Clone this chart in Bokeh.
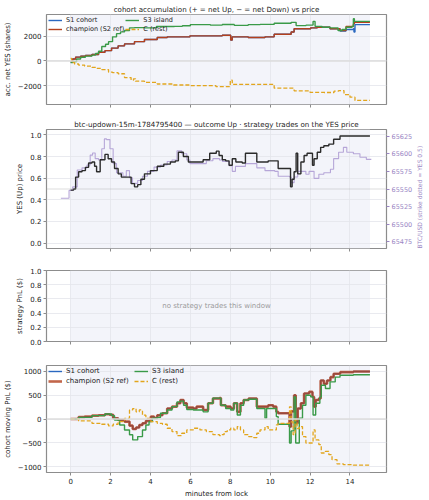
import math

from bokeh.plotting import figure
from bokeh.models import (Range1d, LinearAxis, FixedTicker, BoxAnnotation, Span,
                          Legend, LegendItem, Label, CustomLabelingPolicy)
from bokeh.layouts import column
from bokeh.embed import file_html
from bokeh.resources import INLINE

# ---------------------------------------------------------------- data
MARKET = "btc-updown-15m-1784795400"
STRIKE = 65550
MINUTE_TICKS = [0, 2, 4, 6, 8, 10, 12, 14]

# accumulated net YES shares per cohort, (minute, shares)
s1_acc = [(0, -80), (0.1, 150), (0.25, 310), (0.5, 380), (0.74, 440), (1.07, 520), (1.4, 700),
          (1.72, 830), (2.05, 1040), (2.38, 1220), (2.7, 1380), (3.2, 1560), (3.7, 1740),
          (4.34, 1900), (4.84, 1950), (5.98, 2030), (7.6, 2080), (8.02, 1690), (8.1, 1950),
          (8.9, 1900), (9.74, 1950), (10.2, 2160), (11.05, 2340), (11.2, 2600), (12.03, 2680),
          (12.36, 2730), (13.0, 2600), (13.5, 2420), (13.8, 2550), (14.17, 2600), (14.2, 2340),
          (14.25, 2940), (15.0, 2940)]
champion_acc = [(0, -80), (0.1, 150), (0.25, 310), (0.5, 380), (0.74, 440), (1.07, 520), (1.4, 700),
                (1.72, 830), (2.05, 1040), (2.38, 1220), (2.7, 1380), (3.2, 1560), (3.7, 1740),
                (4.34, 1900), (4.84, 1950), (5.98, 2030), (7.6, 2080), (8.02, 1690), (8.1, 1950),
                (8.9, 1900), (9.74, 1950), (10.2, 2160), (11.05, 2340), (11.2, 2600), (12.03, 2680),
                (12.36, 2730), (13.0, 2600), (13.5, 2470), (13.8, 2790), (14.17, 3000),
                (14.22, 3130), (15.0, 3130)]
s3_acc = [(0, -130), (0.1, -60), (0.3, 150), (0.5, 300), (0.74, 390), (1.07, 470), (1.25, 600),
          (1.4, 780), (1.56, 1170), (1.75, 1350), (1.9, 1560), (2.1, 1950), (2.3, 2210),
          (2.5, 2350), (2.7, 2470), (2.95, 2680), (3.2, 2700), (3.7, 2680), (4.3, 2790),
          (5.2, 2800), (5.6, 2850), (6.0, 2940), (7.0, 2900), (7.6, 2950), (8.2, 2880),
          (8.9, 2940), (9.5, 2960), (10.2, 3050), (11.05, 3125), (11.3, 2860), (11.8, 2900),
          (12.15, 3200), (12.25, 2800), (12.6, 2730), (13.0, 2680), (13.4, 2470), (13.6, 2550),
          (13.8, 2730), (14.1, 2800), (14.17, 3420), (14.22, 3200), (15.0, 3200)]
rest_acc = [(0, 200), (0.05, -130), (0.2, -250), (0.4, -340), (0.7, -420), (1.07, -520), (1.3, -600),
            (1.56, -700), (1.9, -910), (2.1, -950), (2.38, -1040), (2.7, -1350), (3.03, -1560),
            (3.15, -1450), (3.25, -1640), (3.7, -1740), (4.34, -1870), (5.16, -1950), (5.98, -2000),
            (7.28, -2080), (8.0, -1560), (8.1, -1900), (10.2, -2210), (11.2, -2420), (12.0, -2550),
            (12.7, -2560), (13.2, -2450), (13.43, -2400), (13.7, -2730), (14.0, -2940),
            (14.25, -3200), (15.0, -3200)]

# YES (Up) mid price, (minute, price)
yes_price = [(0, 0.49), (0.15, 0.50), (0.25, 0.61), (0.4, 0.66), (0.57, 0.67), (0.74, 0.70),
             (0.9, 0.74), (1.07, 0.75), (1.2, 0.71), (1.3, 0.66), (1.48, 0.77), (1.72, 0.82),
             (1.88, 0.78), (2.05, 0.75), (2.2, 0.69), (2.38, 0.64), (2.54, 0.61), (2.87, 0.61),
             (3.03, 0.55), (3.2, 0.52), (3.36, 0.54), (3.52, 0.59), (3.7, 0.64), (4.0, 0.67),
             (4.34, 0.71), (4.67, 0.73), (5.0, 0.75), (5.25, 0.76), (5.4, 0.84), (5.65, 0.80),
             (5.9, 0.75), (6.3, 0.75), (6.64, 0.77), (6.97, 0.83), (7.3, 0.85), (7.44, 0.81),
             (7.6, 0.77), (7.77, 0.76), (7.94, 0.72), (8.1, 0.78), (8.28, 0.75), (8.6, 0.74),
             (8.76, 0.83), (9.25, 0.83), (9.33, 0.75), (9.74, 0.75), (9.9, 0.76), (10.15, 0.76),
             (10.4, 0.69), (10.97, 0.69), (11.02, 0.52), (11.1, 0.59), (11.2, 0.66), (11.3, 0.83),
             (11.38, 0.64), (11.54, 0.75), (11.7, 0.81), (11.85, 0.83), (12.03, 0.83),
             (12.12, 0.72), (12.2, 0.78), (12.36, 0.84), (12.53, 0.885), (12.69, 0.90),
             (12.94, 0.915), (13.18, 0.96), (13.5, 0.99), (15.0, 0.99)]

# BTC/USD spot, (minute, usd)
btc_usd = [(-0.49, 65537), (-0.08, 65548), (0.1, 65553), (0.33, 65577), (0.57, 65580), (0.82, 65584),
           (0.98, 65598), (1.1, 65601), (1.23, 65593), (1.4, 65591), (1.56, 65607), (1.69, 65621),
           (1.8, 65620), (1.97, 65607), (2.13, 65586), (2.3, 65573), (2.62, 65568), (2.79, 65576),
           (2.95, 65566), (3.1, 65558), (3.36, 65562), (3.6, 65568), (3.85, 65575), (4.18, 65581),
           (4.51, 65584), (4.84, 65589), (5.08, 65591), (5.33, 65604), (5.57, 65600), (5.82, 65591),
           (5.98, 65586), (6.48, 65586), (6.8, 65590), (7.13, 65593), (7.46, 65591), (7.61, 65589),
           (7.94, 65583), (8.1, 65575), (8.26, 65582), (8.76, 65586), (9.33, 65580), (9.74, 65576),
           (10.23, 65575), (10.4, 65568), (10.97, 65567), (11.05, 65559), (11.2, 65567),
           (11.38, 65575), (11.79, 65571), (11.95, 65575), (12.2, 65565), (12.44, 65571),
           (12.69, 65573), (13.02, 65578), (13.18, 65593), (13.43, 65602), (13.67, 65609),
           (13.84, 65602), (14.17, 65600), (14.5, 65595), (14.82, 65592), (15.07, 65592)]

# moving (mark-to-market) PnL per cohort, (minute, usd)
champion_pnl = [(0, 0), (0.4, 40), (0.7, 50), (1.07, 70), (1.4, 80), (1.72, 100), (1.95, 90),
                (2.13, 15), (2.38, -20), (2.7, -55), (2.95, -140), (3.11, -210), (3.28, -180),
                (3.44, -125), (3.6, -90), (3.77, -40), (4.02, 50), (4.18, 20), (4.34, 80),
                (4.6, 120), (4.84, 220), (5.08, 260), (5.33, 330), (5.5, 400), (5.66, 330),
                (5.82, 240), (6.15, 220), (6.31, 260), (6.64, 190), (6.89, 330), (7.13, 430),
                (7.46, 440), (7.53, 290), (7.77, 260), (8.02, 220), (8.18, 330), (8.35, 150),
                (8.51, 330), (8.67, 400), (8.92, 430), (9.33, 260), (9.9, 290), (10.15, 260),
                (10.31, 150), (10.4, 120), (10.97, -160), (11.05, 160), (11.2, 500), (11.28, -90),
                (11.38, 220), (11.54, 330), (11.7, 535), (11.95, 570), (12.12, 465), (12.2, 260),
                (12.28, 400), (12.44, 430), (12.53, 810), (12.69, 740), (12.85, 810), (13.02, 880),
                (13.18, 950), (13.51, 985), (14.17, 1000), (15.0, 1000)]
s1_pnl = [(0, 0), (0.4, 40), (0.7, 50), (1.07, 70), (1.4, 80), (1.72, 100), (1.95, 90),
          (2.13, 15), (2.38, -20), (2.7, -55), (2.95, -140), (3.11, -210), (3.28, -180),
          (3.44, -125), (3.6, -90), (3.77, -40), (4.02, 50), (4.18, 20), (4.34, 80),
          (4.6, 120), (4.84, 220), (5.08, 260), (5.33, 330), (5.5, 400), (5.66, 330),
          (5.82, 240), (6.15, 220), (6.31, 260), (6.64, 190), (6.89, 330), (7.13, 430),
          (7.46, 440), (7.53, 290), (7.77, 260), (8.02, 220), (8.18, 330), (8.35, 150),
          (8.51, 330), (8.67, 400), (8.92, 430), (9.33, 260), (9.9, 290), (10.15, 260),
          (10.31, 150), (10.4, 120), (10.97, -160), (11.05, 160), (11.2, 500), (11.28, -90),
          (11.38, 220), (11.54, 330), (11.7, 535), (11.95, 570), (12.12, 465), (12.2, 260),
          (12.28, 400), (12.44, 430), (12.53, 810), (12.69, 740), (12.85, 810), (13.02, 880),
          (13.18, 950), (13.51, 985), (14.17, 1000), (15.0, 1000)]
s3_pnl = [(0, 0), (0.4, 35), (1.07, 70), (1.72, 105), (2.05, 70), (2.2, -20), (2.46, -125),
          (2.7, -230), (2.95, -330), (3.11, -440), (3.36, -370), (3.6, -230), (3.77, -125),
          (3.93, -55), (4.1, 15), (4.34, 30), (4.5, 120), (4.84, 190), (5.08, 260), (5.33, 360),
          (5.5, 375), (5.66, 290), (5.82, 200), (6.15, 190), (6.64, 150), (6.89, 330),
          (7.13, 440), (7.53, 290), (7.77, 220), (8.02, 190), (8.18, 330), (8.35, 85),
          (8.51, 290), (8.67, 400), (8.92, 415), (9.33, 220), (9.74, 15), (9.82, 220),
          (10.31, 50), (10.4, -110), (10.97, -505), (11.05, -250), (11.2, 465), (11.28, -505),
          (11.46, 15), (11.62, 290), (11.79, 500), (12.03, 465), (12.15, 85), (12.28, 330),
          (12.49, 465), (12.56, 710), (12.77, 640), (13.0, 780), (13.26, 880), (13.5, 920),
          (14.17, 930), (15.0, 930)]
rest_pnl = [(0, 0), (0.4, -40), (1.07, -90), (1.56, -110), (1.9, -145), (2.13, -110), (2.38, -55),
            (2.7, 15), (2.95, 190), (3.11, 220), (3.28, 150), (3.44, 190), (3.6, 80), (3.77, 15),
            (4.02, -55), (4.34, -90), (4.6, -110), (4.84, -195), (5.08, -265), (5.33, -350),
            (5.57, -300), (5.82, -230), (6.15, -195), (6.48, -230), (6.8, -265), (7.13, -330),
            (7.46, -350), (7.53, -330), (7.69, -265), (7.85, -230), (8.02, -195), (8.18, -230),
            (8.35, -160), (8.51, -230), (8.67, -330), (8.92, -370), (9.17, -390), (9.33, -300),
            (9.49, -230), (9.74, -160), (9.9, -230), (10.31, -125), (10.4, -90), (10.97, 255),
            (11.05, -60), (11.15, -330), (11.25, -20), (11.35, -200), (11.46, -160),
            (11.62, -370), (11.79, -505), (12.15, -230), (12.25, -440), (12.44, -540),
            (12.56, -715), (12.77, -680), (12.94, -750), (13.1, -855), (13.35, -945),
            (13.67, -960), (14.17, -970), (15.0, -990)]

# ---------------------------------------------------------------- style
FONT = "DejaVu Sans"
INK = "#222222"
FRAME = "#8c8c8c"
WINDOW_FILL = "#f3f4fa"
GRID = "#e3e4eb"
C_S1 = "#2a68c0"
C_CHAMP = "#b3401d"
C_S3 = "#3a9a48"
C_REST = "#e2a51c"
C_PRICE = "#2b2b2b"
C_BTC = "#b6a6d8"
C_BTC_TEXT = "#9a86c4"

X_LO, X_HI = -1.21, 15.83
x_range = Range1d(X_LO, X_HI)

# shared-x panels keep their tick marks but show minute labels only at the bottom
NO_LABELS = CustomLabelingPolicy(code="""
for (const i of indices)
    indices.unset(i)
""")


def unzip(pairs):
    return [p[0] for p in pairs], [p[1] for p in pairs]


def panel(height, top, bottom, y_range, y_label, y_ticks, y_overrides=None, x_labels=False,
          title=None):
    p = figure(width=429, height=height, x_range=x_range, y_range=y_range,
               output_backend="svg", toolbar_location=None,
               min_border_left=42, min_border_right=40,
               min_border_top=top, min_border_bottom=bottom)
    p.background_fill_color = "white"
    p.border_fill_color = "white"
    p.outline_line_color = FRAME
    p.outline_line_width = 1.2
    if title:
        p.title.text = title
        p.title.align = "center"
        p.title.text_font = FONT
        p.title.text_font_size = "7.1px"
        p.title.text_font_style = "normal"
        p.title.text_color = INK
        p.title.standoff = 2
    # observation window 0..15 min
    p.add_layout(BoxAnnotation(left=0, right=15, fill_color=WINDOW_FILL, fill_alpha=1,
                               line_color=None, level="image"))
    for g in p.grid:
        g.grid_line_color = GRID
        g.grid_line_width = 0.8
    p.xaxis.ticker = FixedTicker(ticks=MINUTE_TICKS)
    p.yaxis.ticker = FixedTicker(ticks=y_ticks)
    if y_overrides:
        p.yaxis.major_label_overrides = y_overrides
    for ax in list(p.xaxis) + list(p.yaxis):
        ax.axis_line_color = None
        ax.major_tick_line_color = FRAME
        ax.major_tick_out = 3
        ax.major_tick_in = 0
        ax.minor_tick_line_color = None
        ax.major_label_text_font = FONT
        ax.major_label_text_font_size = "7px"
        ax.major_label_text_color = INK
        ax.major_label_standoff = 2
        ax.axis_label_text_font = FONT
        ax.axis_label_text_font_size = "7px"
        ax.axis_label_text_font_style = "normal"
        ax.axis_label_text_color = INK
        ax.axis_label_standoff = 3
    p.yaxis.axis_label = y_label
    if x_labels:
        p.xaxis.axis_label = "minutes from lock"
    else:
        p.xaxis.major_label_policy = NO_LABELS
        p.xaxis.major_label_standoff = 0
    return p


def cohort_lines(p, s1, champ, s3, rest, champ_width, champ_alpha):
    r1 = p.step(*unzip(s1), mode="after", line_color=C_S1, line_width=1.4)
    r2 = p.step(*unzip(champ), mode="after", line_color=C_CHAMP, line_width=champ_width,
                line_alpha=champ_alpha)
    r3 = p.step(*unzip(s3), mode="after", line_color=C_S3, line_width=1.4)
    r4 = p.step(*unzip(rest), mode="after", line_color=C_REST, line_width=1.3, line_dash="4 2")
    return [("S1 cohort", r1), ("champion (S2 ref)", r2), ("S3 island", r3), ("C (rest)", r4)]


def cohort_legend(p, entries, font_size, label_width, row_gap):
    leg = Legend(items=[LegendItem(label=n, renderers=[r]) for n, r in entries],
                 location="top_left", orientation="vertical", ncols=2)
    leg.background_fill_alpha = 0
    leg.border_line_color = None
    leg.label_text_font = FONT
    leg.label_text_font_size = font_size
    leg.label_text_color = INK
    leg.glyph_width = 14
    leg.glyph_height = 6
    leg.label_height = 6
    leg.label_standoff = 4
    leg.label_width = label_width
    leg.spacing = row_gap
    leg.padding = 2
    leg.margin = 2
    p.add_layout(leg)


zero_line = dict(location=0, dimension="width", line_color="#dcdcdc", line_width=1.5)

# ---------------------------------------------------------------- panel 1: accumulation
p1 = panel(116, 14, 8, Range1d(-3530, 3760), "acc. net YES (shares)", [-2000, 0, 2000],
           {-2000: "\u22122000"},
           title="cohort accumulation (+ = net Up, \u2212 = net Down) vs price")
p1.add_layout(Span(**zero_line))
acc_entries = cohort_lines(p1, s1_acc, champion_acc, s3_acc, rest_acc, 1.4, 1.0)
cohort_legend(p1, acc_entries, "6.5px", 57, 1)

# ---------------------------------------------------------------- panel 2: YES price + BTC
p2 = panel(144, 12, 8, Range1d(-0.05, 1.05), "YES (Up) price", [0, 0.2, 0.4, 0.6, 0.8, 1.0],
           title=f"{MARKET} \u2014 outcome Up \u00b7 strategy trades on the YES price")
p2.yaxis.major_label_overrides = {0: "0.0", 1: "1.0"}
p2.extra_y_ranges = {"btc": Range1d(STRIKE - 84.3, STRIKE + 84.3)}
btc_axis = LinearAxis(y_range_name="btc", axis_label="BTC/USD (strike dotted = YES 0.5)",
                      ticker=FixedTicker(ticks=[65475, 65500, 65525, 65550, 65575, 65600, 65625]))
btc_axis.axis_line_color = None
btc_axis.major_tick_line_color = C_BTC_TEXT
btc_axis.major_tick_out = 3
btc_axis.major_tick_in = 0
btc_axis.minor_tick_line_color = None
btc_axis.major_label_text_font = FONT
btc_axis.major_label_text_font_size = "6.5px"
btc_axis.major_label_text_color = C_BTC_TEXT
btc_axis.major_label_standoff = 2
btc_axis.axis_label_text_font = FONT
btc_axis.axis_label_text_font_size = "6px"
btc_axis.axis_label_text_font_style = "normal"
btc_axis.axis_label_text_color = C_BTC_TEXT
btc_axis.axis_label_standoff = 4
if "axis_label_align" in LinearAxis.properties():
    # read bottom to top, starting from the foot of the axis
    btc_axis.axis_label_orientation = math.pi / 2
    btc_axis.axis_label_align = "start"
p2.add_layout(btc_axis, "right")
p2.add_layout(Span(location=0.5, dimension="width", line_color="#a8a8a8", line_width=0.8,
                   line_dash="1 1"))
p2.step(*unzip(btc_usd), mode="after", y_range_name="btc", line_color=C_BTC, line_width=1.1)
p2.step(*unzip(yes_price), mode="after", line_color=C_PRICE, line_width=1.4)

# ---------------------------------------------------------------- panel 3: strategy PnL
p3 = panel(93, 10, 8, Range1d(0, 1), "strategy PnL ($)", [0, 0.2, 0.4, 0.6, 0.8, 1.0])
p3.yaxis.major_label_overrides = {0: "0.0", 1: "1.0"}
p3.add_layout(Label(x=(X_LO + X_HI) / 2, y=0.5, text="no strategy trades this window",
                    text_align="center", text_baseline="middle", text_font=FONT,
                    text_font_size="7px", text_color="#9a9a9a"))

# ---------------------------------------------------------------- panel 4: cohort moving PnL
p4 = panel(147, 12, 27, Range1d(-1125, 1125), "cohort moving PnL ($)",
           [-1000, -500, 0, 500, 1000], {-1000: "\u22121000", -500: "\u2212500"}, x_labels=True)
p4.add_layout(Span(**zero_line))
pnl_entries = cohort_lines(p4, s1_pnl, champion_pnl, s3_pnl, rest_pnl, 2.6, 0.8)
cohort_legend(p4, pnl_entries, "7px", 66, 2)

layout = column(p1, p2, p3, p4, spacing=0)
open("out.html", "w").write(file_html(layout, INLINE))
